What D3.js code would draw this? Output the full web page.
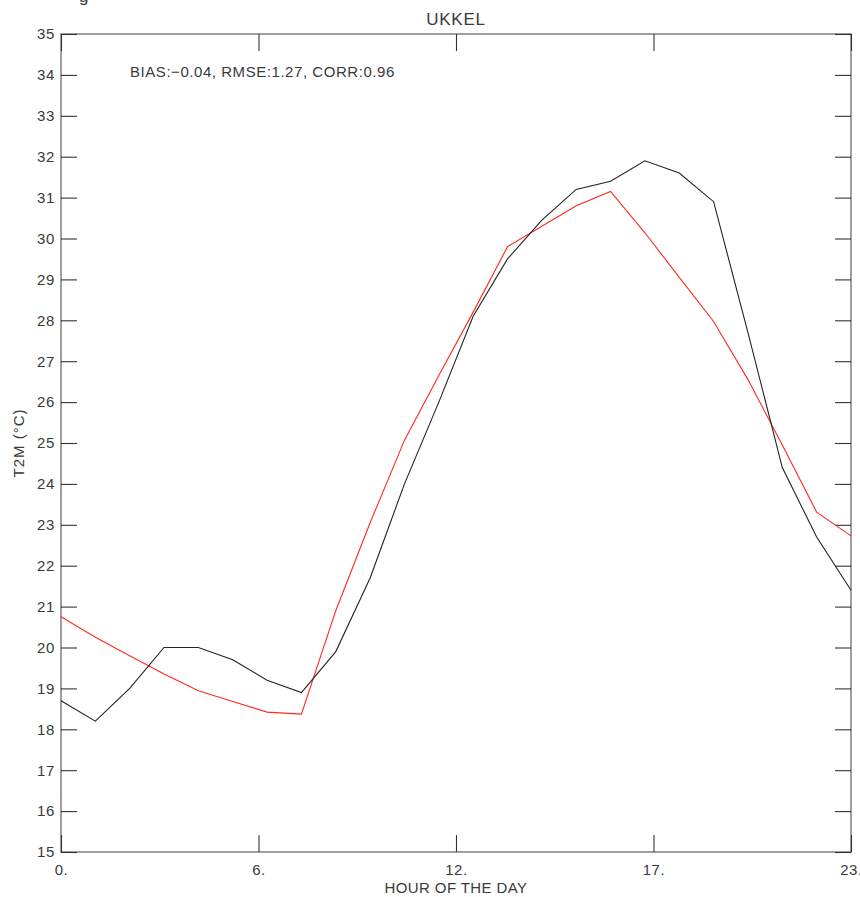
<!DOCTYPE html>
<html>
<head>
<meta charset="utf-8">
<script src="https://cdn.jsdelivr.net/npm/d3@7"></script>
<style>
  html, body { margin: 0; padding: 0; background: #fff; }
  svg { display: block; }
  text { font-family: "Liberation Sans", Arial, sans-serif; fill: #3a3a3a; }
</style>
</head>
<body>
<svg id="chart" width="860" height="897"></svg>
<script>
// Hourly 2 m temperature at Ukkel: observed (black) and model (red)
const hours = d3.range(0, 24);
const observed = [18.7, 18.2, 19.0, 20.0, 20.0, 19.7, 19.2, 18.9, 19.9, 21.7, 24.0, 26.0,
                  28.1, 29.5, 30.45, 31.2, 31.4, 31.9, 31.6, 30.9, 27.7, 24.4, 22.7, 21.4];
const modelled = [20.75, 20.25, 19.8, 19.35, 18.94, 18.68, 18.42, 18.37, 20.9, 23.05, 25.07, 26.65,
                  28.2, 29.8, 30.3, 30.8, 31.15, 30.14, 29.05, 27.97, 26.55, 24.95, 23.31, 22.73];
const xTickValues = [0, 5.75, 11.5, 17.25, 23];
const xTickLabels = ["0.", "6.", "12.", "17.", "23."];
const yTickValues = d3.range(15, 36);
const statsLabel = "BIAS:\u22120.04, RMSE:1.27, CORR:0.96";

const svg = d3.select("#chart");
const plotLeft = 61, plotRight = 851, plotTop = 34, plotBottom = 852;

const x = d3.scaleLinear().domain([0, 23]).range([plotLeft, plotRight]);
const y = d3.scaleLinear().domain([15, 35]).range([plotBottom, plotTop]);

// fragment of a caption above the panel
svg.append("text").attr("x", 79).attr("y", 2).attr("font-size", 17).text("g");

// frame
svg.append("rect")
  .attr("x", plotLeft).attr("y", plotTop)
  .attr("width", plotRight - plotLeft).attr("height", plotBottom - plotTop)
  .attr("fill", "none").attr("stroke", "#777").attr("stroke-width", 1.4);

const tickLen = 16;
// left axis
const yLeft = svg.append("g").attr("transform", `translate(${plotLeft},0)`)
  .call(d3.axisLeft(y).tickValues(yTickValues).tickFormat(d3.format("d"))
        .tickSizeInner(-tickLen).tickSizeOuter(0).tickPadding(6));
// right axis (ticks only)
const yRight = svg.append("g").attr("transform", `translate(${plotRight},0)`)
  .call(d3.axisRight(y).tickValues(yTickValues).tickFormat("")
        .tickSizeInner(-tickLen).tickSizeOuter(0));
// bottom axis
const xBottom = svg.append("g").attr("transform", `translate(0,${plotBottom})`)
  .call(d3.axisBottom(x).tickValues(xTickValues).tickFormat((d, i) => xTickLabels[i])
        .tickSizeInner(-tickLen - 1).tickSizeOuter(0).tickPadding(12));
// top axis (ticks only)
const xTop = svg.append("g").attr("transform", `translate(0,${plotTop})`)
  .call(d3.axisTop(x).tickValues(xTickValues).tickFormat("")
        .tickSizeInner(-tickLen - 1).tickSizeOuter(0));

[yLeft, yRight, xBottom, xTop].forEach(g => {
  g.select(".domain").remove();
  g.selectAll(".tick line").attr("stroke", "#333").attr("stroke-width", 1.1);
  g.selectAll(".tick text").attr("font-size", 15).attr("fill", "#3a3a3a")
    .attr("letter-spacing", 0.6)
    .attr("font-family", "Liberation Sans, Arial, sans-serif");
});

// series lines
const line = d3.line().x((d, i) => x(hours[i])).y(d => y(d));
svg.append("path").datum(modelled)
  .attr("d", line).attr("fill", "none").attr("stroke", "#ff2a1a").attr("stroke-width", 1.1);
svg.append("path").datum(observed)
  .attr("d", line).attr("fill", "none").attr("stroke", "#222").attr("stroke-width", 1.1);

// title, stats, axis titles
svg.append("text").attr("x", 456).attr("y", 25).attr("text-anchor", "middle")
  .attr("font-size", 17).attr("letter-spacing", 0.8).text("UKKEL");
svg.append("text").attr("x", 130).attr("y", 77).attr("font-size", 15)
  .attr("letter-spacing", 0.55).text(statsLabel);
svg.append("text").attr("x", 456).attr("y", 893).attr("text-anchor", "middle")
  .attr("font-size", 15).attr("letter-spacing", 0.4).text("HOUR OF THE DAY");
svg.append("text")
  .attr("transform", `translate(24,${(plotTop + plotBottom) / 2}) rotate(-90)`)
  .attr("text-anchor", "middle").attr("font-size", 15).attr("letter-spacing", 1)
  .text("T2M (\u00b0C)");
</script>
</body>
</html>
